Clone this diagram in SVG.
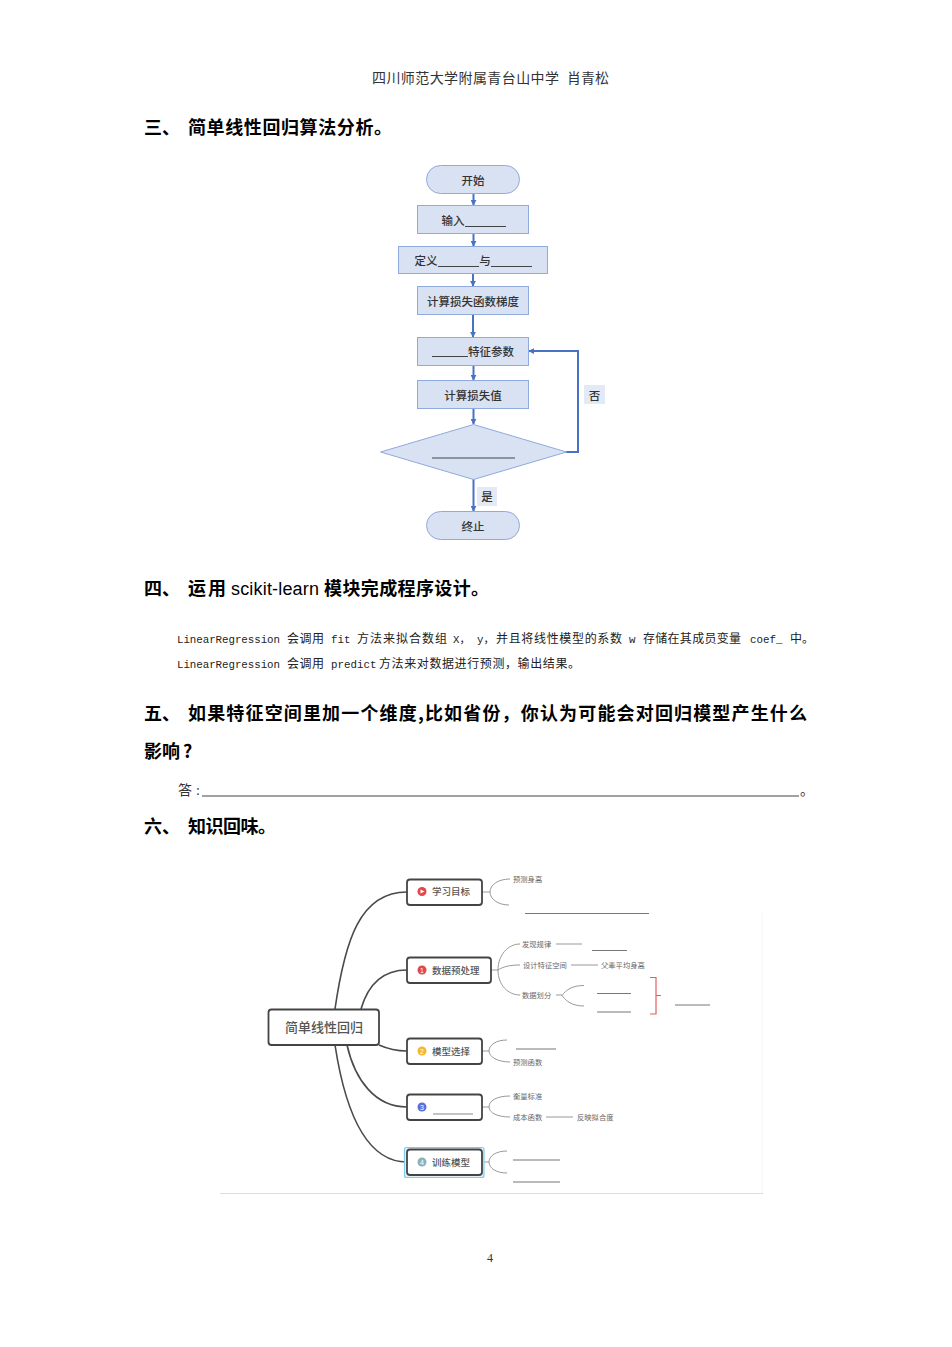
<svg xmlns="http://www.w3.org/2000/svg" width="952" height="1347" viewBox="0 0 952 1347">
<style>
text{font-family:"Liberation Sans","Noto Sans CJK SC",sans-serif;fill:#222}
.h{font-size:18px;font-weight:700;fill:#000;font-family:"Noto Sans CJK SC",sans-serif}
.hl{font-size:18px;font-weight:500;fill:#000;font-family:"Liberation Sans",sans-serif}
.hd{font-size:14px;font-family:"Liberation Serif","Noto Sans CJK SC",serif;fill:#333}
.m{font-size:10.8px;font-family:"Liberation Mono","Noto Sans CJK SC",monospace;fill:#222}
.c{font-size:12px;font-family:"Noto Sans CJK SC",serif;fill:#222}
.b{fill:#d9e2f2;stroke:#8faadc;stroke-width:1}
.ft{font-size:11.5px;font-weight:500;text-anchor:middle;fill:#333;font-family:"Noto Sans CJK SC",sans-serif}
.ul{stroke:#444;stroke-width:1;fill:none}
.fl{stroke:#4a72c4;stroke-width:2;fill:none}
.n{fill:#fff;stroke:#444;stroke-width:1.800}
.cn{stroke:#4a4a4a;stroke-width:1.600;fill:none}
.br{stroke:#999;stroke-width:1;fill:none}
.nt{font-size:9.500px;font-weight:500;fill:#555;font-family:"Noto Sans CJK SC",sans-serif}
.lf{font-size:7.300px;fill:#666;font-family:"Noto Sans CJK SC",sans-serif}
.g{stroke:#777;stroke-width:1;fill:none}
.lb{fill:#e4eaf5}
</style>
<defs>
<marker id="a" viewBox="0 0 8 8" refX="7" refY="4" markerWidth="3" markerHeight="3" orient="auto"><path d="M0 0L8 4L0 8Z" fill="#4a72c4"/></marker>
</defs>

<text class="hd" x="372" y="83" textLength="187">四川师范大学附属青台山中学</text>
<text class="hd" x="567" y="83" textLength="42">肖青松</text>

<text class="h" x="144" y="134">三、</text>
<text class="h" x="188" y="134" textLength="204">简单线性回归算法分析。</text>

<g id="connectors-flow">
<path class="fl" marker-end="url(#a)" d="M473.500 193V205"/>
<path class="fl" marker-end="url(#a)" d="M473.500 234V246"/>
<path class="fl" marker-end="url(#a)" d="M473 274V286"/>
<path class="fl" marker-end="url(#a)" d="M473 314V337"/>
<path class="fl" marker-end="url(#a)" d="M473.500 365V380"/>
<path class="fl" marker-end="url(#a)" d="M473.500 408V424"/>
<path class="fl" marker-end="url(#a)" d="M473.500 479V511"/>
<path class="fl" marker-end="url(#a)" d="M566 452H578V351H529"/>
</g>
<g id="f-start"><rect class="b" x="426.500" y="165.500" width="93" height="28" rx="14"/><text class="ft" x="473" y="184.500">开始</text></g>
<g id="f-input"><rect class="b" x="417.500" y="205.500" width="111" height="28"/><text class="ft" x="453" y="225">输入</text><line class="ul" x1="465" y1="226.500" x2="506" y2="226.500"/></g>
<g id="f-define"><rect class="b" x="398.500" y="246.500" width="149" height="27"/><text class="ft" x="426" y="265">定义</text><line class="ul" x1="438" y1="266.500" x2="479" y2="266.500"/><text class="ft" x="485" y="265">与</text><line class="ul" x1="491" y1="266.500" x2="532" y2="266.500"/></g>
<g id="f-grad"><rect class="b" x="417.500" y="286.500" width="111" height="28"/><text class="ft" x="473" y="305.500">计算损失函数梯度</text></g>
<g id="f-param"><rect class="b" x="417.500" y="337.500" width="111" height="28"/><line class="ul" x1="432" y1="356.500" x2="468" y2="356.500"/><text class="ft" x="491" y="356">特征参数</text></g>
<g id="f-loss"><rect class="b" x="417.500" y="380.500" width="111" height="28"/><text class="ft" x="473" y="400">计算损失值</text></g>
<g id="f-cond"><polygon class="b" points="473.500,424.500 566.500,452 473.500,479.500 380.500,452"/><line class="ul" x1="432" y1="458" x2="515" y2="458"/></g>
<g id="f-end"><rect class="b" x="426.500" y="511.500" width="93" height="28" rx="14"/><text class="ft" x="473" y="531">终止</text></g>
<g id="f-no"><rect class="lb" x="584" y="385" width="21" height="19"/><text class="ft" x="594.500" y="399.500">否</text></g>
<g id="f-yes"><rect class="lb" x="477" y="487" width="20" height="19"/><text class="ft" x="487" y="501">是</text></g>

<text class="h" x="144" y="595">四、</text>
<text class="h" x="188" y="595" textLength="38">运用</text>
<text class="hl" x="231" y="595" textLength="88">scikit-learn</text>
<text class="h" x="324" y="595" textLength="165">模块完成程序设计。</text>

<text class="m" x="177" y="643" textLength="103">LinearRegression</text>
<text class="c" x="287" y="643" textLength="37">会调用</text>
<text class="m" x="331" y="643">fit</text>
<text class="c" x="357" y="643" textLength="90">方法来拟合数组</text>
<text class="m" x="453" y="643">X，</text>
<text class="m" x="477" y="643">y，</text>
<text class="c" x="496" y="643" textLength="126">并且将线性模型的系数</text>
<text class="m" x="629" y="643">w</text>
<text class="c" x="643" y="643" textLength="98">存储在其成员变量</text>
<text class="m" x="750" y="643">coef_</text>
<text class="c" x="790" y="643" textLength="24">中。</text>

<text class="m" x="177" y="668" textLength="103">LinearRegression</text>
<text class="c" x="287" y="668" textLength="37">会调用</text>
<text class="m" x="331" y="668">predict</text>
<text class="c" x="379" y="668" textLength="201">方法来对数据进行预测，输出结果。</text>

<text class="h" x="144" y="720">五、</text>
<text class="h" x="188" y="720" textLength="619">如果特征空间里加一个维度,比如省份，你认为可能会对回归模型产生什么</text>
<text class="h" x="144" y="758">影响<tspan x="183">?</tspan></text>
<text class="hd" x="178" y="795">答<tspan x="196">:</tspan></text>
<line class="ul" x1="202" y1="796" x2="799" y2="796"/>
<text class="hd" x="800" y="795">。</text>
<text class="h" x="144" y="833">六、</text>
<text class="h" x="188" y="833" textLength="88">知识回味。</text>

<line x1="220" y1="1193.500" x2="763" y2="1193.500" stroke="#ddd"/>
<line x1="762" y1="913" x2="762" y2="1193" stroke="#f4f4f4"/>

<g id="connectors-map">
<path class="cn" d="M335 1009C345 940 360 892 407 892"/>
<path class="cn" d="M361 1009C368 985 382 970 407 970"/>
<path class="cn" d="M379 1045C388 1049 395 1051 407 1051"/>
<path class="cn" d="M347 1045C355 1080 375 1107 407 1107"/>
<path class="cn" d="M335 1045C345 1110 365 1162 407 1162"/>
<path class="br" d="M482 892H490M510 879C498 879 490 885 490 892C490 899 498 905 509 905"/>
<path class="br" d="M491 970H498M520 944C508 944 498 955 498 970C498 985 508 995 520 995M498 970C504 966 512 965 520 965"/>
<path class="br" d="M556 995H562M584 985.500C572 985.500 566 990 562 995.500C566 1001 572 1006 584 1006"/>
<path class="br" d="M482 1051H489M507 1040C496 1040 489 1045 489 1051C489 1057 498 1062 510 1062"/>
<path class="br" d="M482 1107H489M510 1096C496 1096 489 1101 489 1107C489 1113 498 1117 510 1117"/>
<path class="br" d="M482 1162H489M507 1151C496 1151 489 1156 489 1162C489 1168 496 1173 507 1173"/>
<path class="br" d="M556 944H582M571 965H598M546 1117H573"/>
<path d="M650 977.500H656V1014H650M656 995.500H661" fill="none" stroke="#e0605e" stroke-width="1.200"/>
</g>

<g id="m-root"><rect class="n" x="268.500" y="1009.500" width="110.500" height="35.500" rx="3"/><text x="324" y="1032" text-anchor="middle" style="font-size:13px;font-weight:500;fill:#555;font-family:'Noto Sans CJK SC',sans-serif">简单线性回归</text></g>
<g id="m-goal"><rect class="n" x="407" y="879.500" width="75" height="25.500" rx="3"/><circle cx="422" cy="891.500" r="4.500" fill="#e2474c"/><path d="M420.500 889.500L424.500 891.500L420.500 893.500Z" fill="#fff"/><text class="nt" x="432" y="895">学习目标</text></g>
<g id="m-data"><rect class="n" x="407" y="957.500" width="84" height="25.500" rx="3"/><circle cx="422" cy="970" r="4.500" fill="#e2474c"/><text x="422" y="973" text-anchor="middle" style="font-size:7px;fill:#fff">1</text><text class="nt" x="432" y="973.500">数据预处理</text></g>
<g id="m-model"><rect class="n" x="407" y="1038.500" width="75" height="25.500" rx="3"/><circle cx="422" cy="1051" r="4.500" fill="#f2b82e"/><text x="422" y="1054" text-anchor="middle" style="font-size:7px;fill:#fff">2</text><text class="nt" x="432" y="1054.500">模型选择</text></g>
<g id="m-three"><rect class="n" x="407" y="1094.500" width="75" height="25.500" rx="3"/><circle cx="422" cy="1107" r="4.500" fill="#5a6fdc"/><text x="422" y="1110" text-anchor="middle" style="font-size:7px;fill:#fff">3</text><line x1="433" y1="1114" x2="473" y2="1114" stroke="#888"/></g>
<g id="m-train"><rect x="404.500" y="1147.500" width="79.500" height="30" rx="2" fill="#dff2fa" stroke="#7fcdea" stroke-width="1.200"/><rect class="n" x="407" y="1149.500" width="75" height="25.500" rx="3"/><circle cx="422" cy="1162" r="4.500" fill="#8fb0b8"/><text x="422" y="1165" text-anchor="middle" style="font-size:7px;fill:#fff">4</text><text class="nt" x="432" y="1165.500">训练模型</text></g>

<g id="m-leaves">
<text class="lf" x="513" y="882">预测身高</text>
<line class="g" x1="525" y1="913.500" x2="649" y2="913.500"/>
<text class="lf" x="522" y="947">发现规律</text>
<line class="g" x1="592" y1="950.500" x2="627" y2="950.500"/>
<text class="lf" x="523" y="968">设计特征空间</text>
<text class="lf" x="601" y="968">父辈平均身高</text>
<text class="lf" x="522" y="998">数据划分</text>
<line class="g" x1="597" y1="993.500" x2="631" y2="993.500"/>
<line class="g" x1="597" y1="1012" x2="631" y2="1012"/>
<line class="g" x1="675" y1="1005" x2="710" y2="1005"/>
<line class="g" x1="516" y1="1049" x2="556" y2="1049"/>
<text class="lf" x="513" y="1065">预测函数</text>
<text class="lf" x="513" y="1099">衡量标准</text>
<text class="lf" x="513" y="1120">成本函数</text>
<text class="lf" x="577" y="1120">反映拟合度</text>
<line class="g" x1="513" y1="1160" x2="560" y2="1160"/>
<line class="g" x1="513" y1="1182" x2="560" y2="1182"/>
</g>

<text x="490" y="1262" text-anchor="middle" style="font-size:12px;fill:#333;font-family:'Liberation Serif',serif">4</text>
</svg>
